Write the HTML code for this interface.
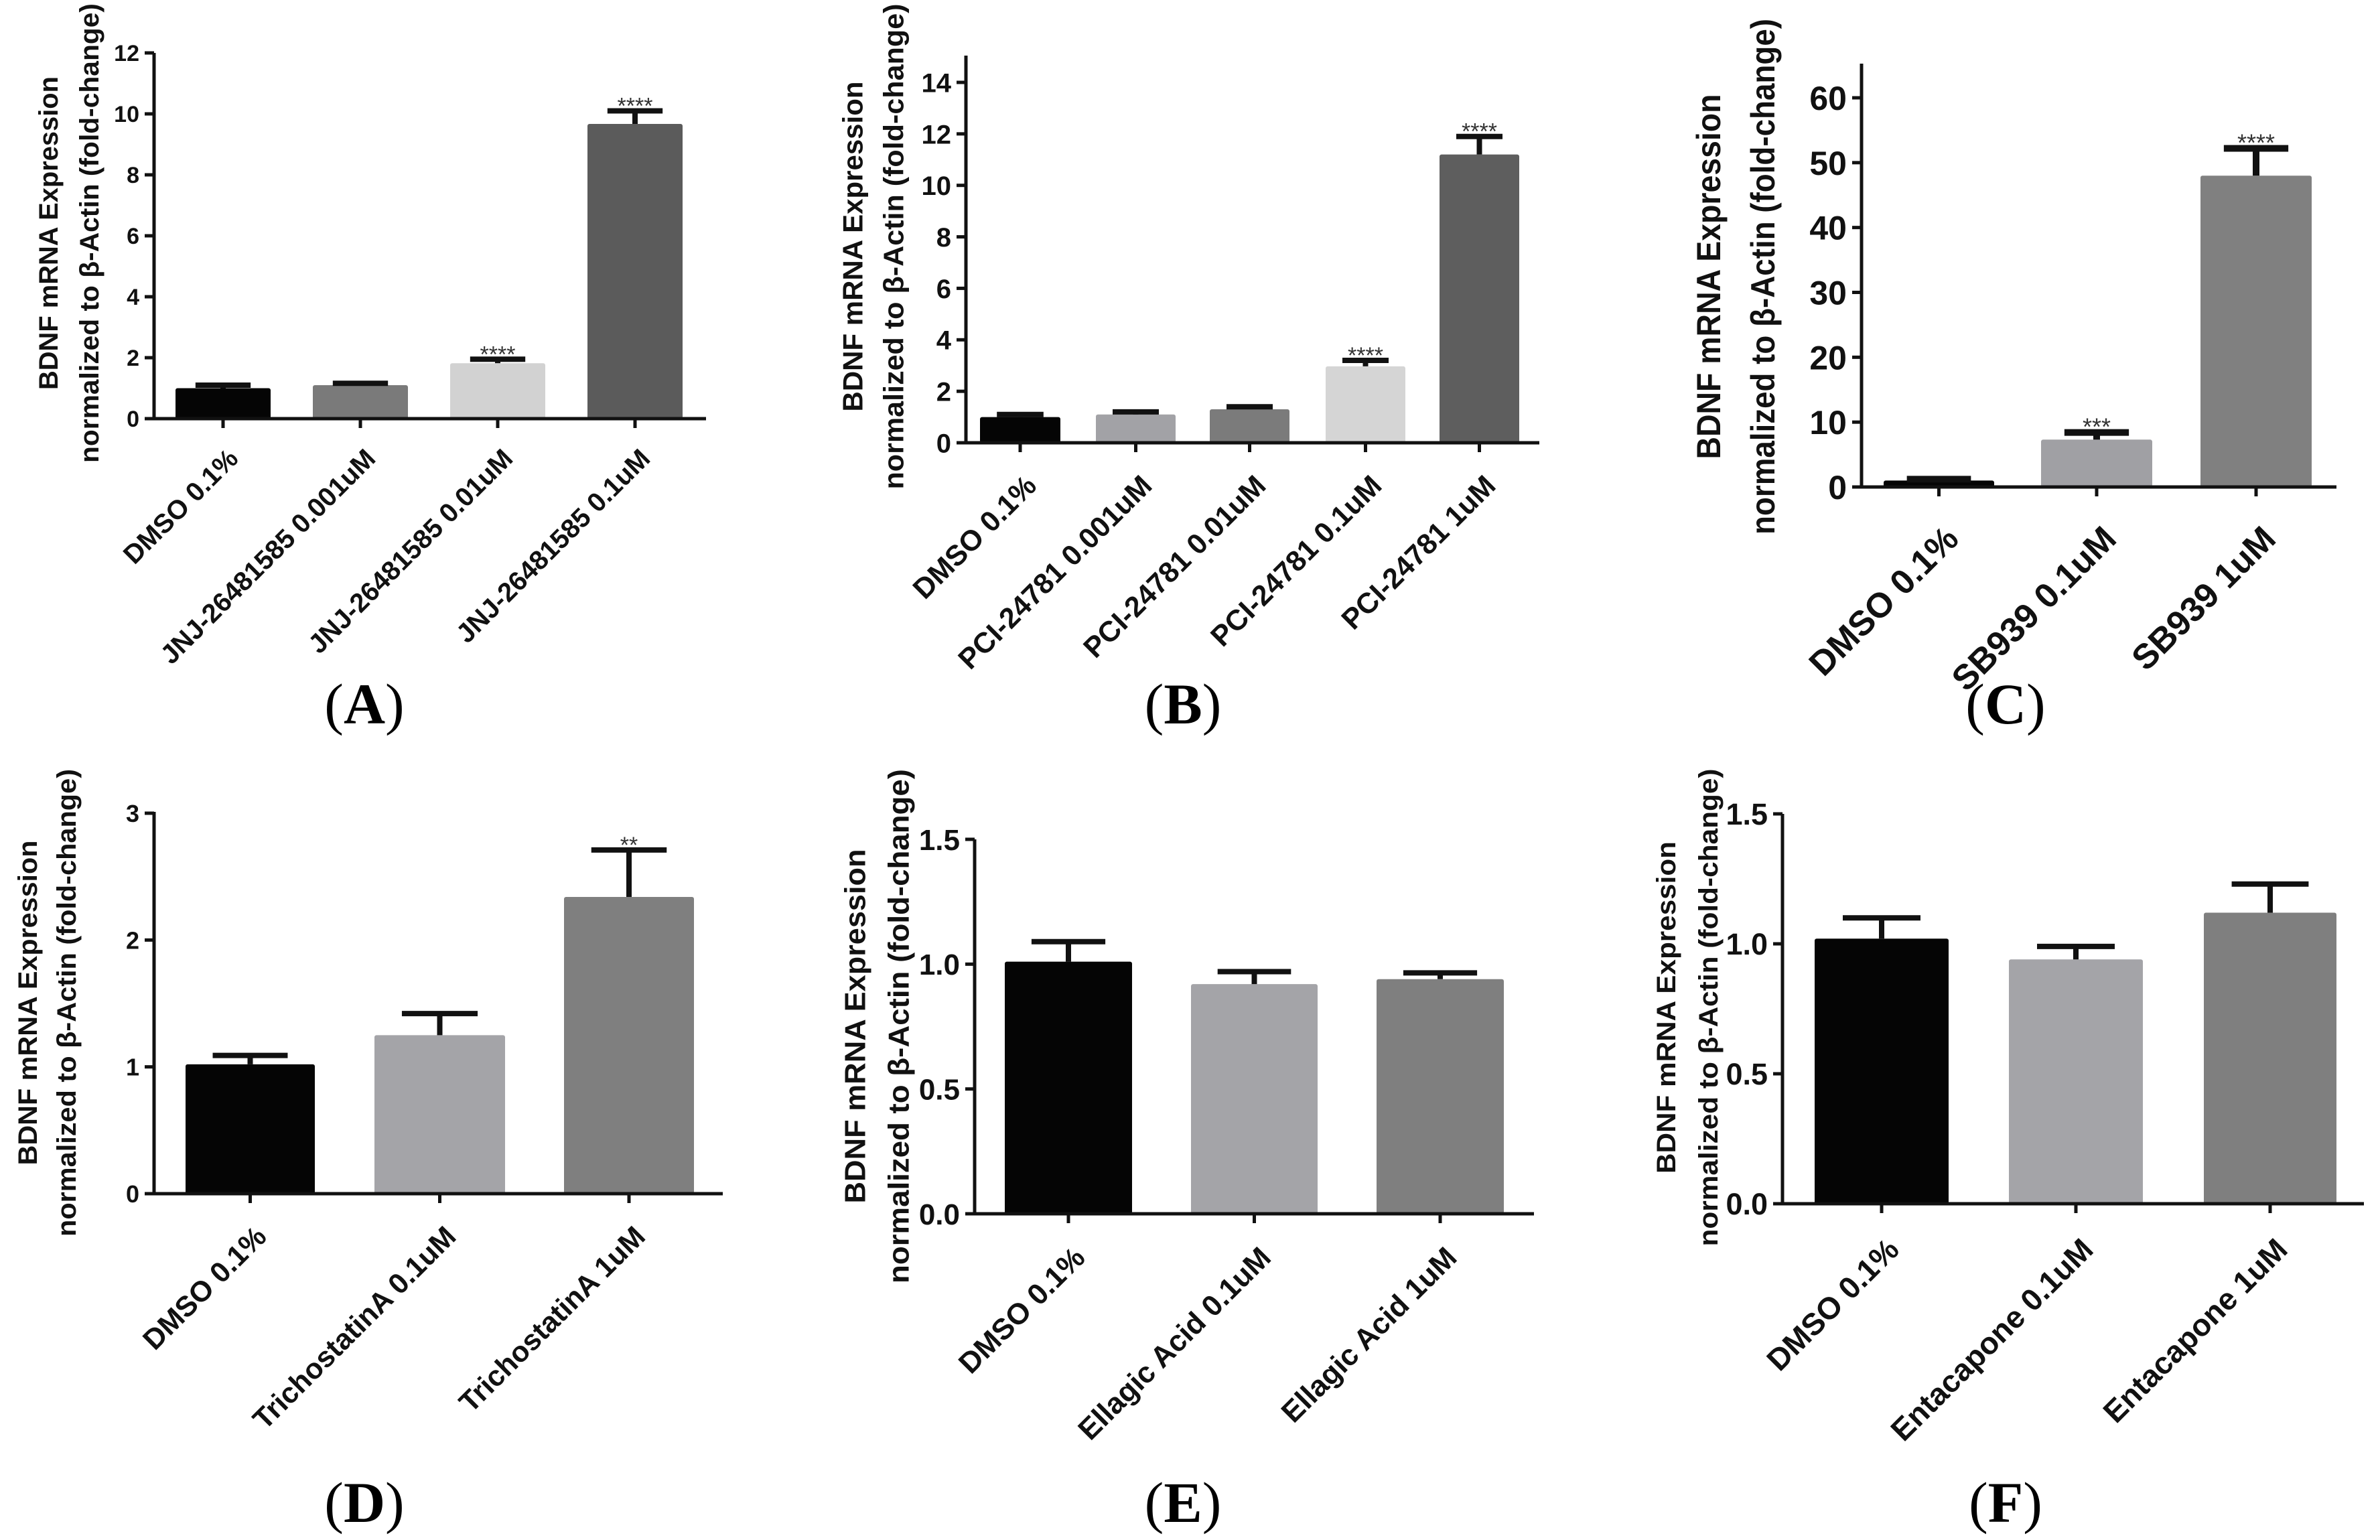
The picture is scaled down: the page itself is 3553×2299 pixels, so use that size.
<!DOCTYPE html>
<html><head><meta charset="utf-8"><title>BDNF mRNA expression panels</title>
<style>
html,body{margin:0;padding:0;background:#fff;}
svg{display:block;}
text{font-family:"Liberation Sans",Arial,sans-serif;}
text.serif{font-family:"Liberation Serif","Times New Roman",serif;}
</style></head>
<body>
<svg id="fig" xmlns="http://www.w3.org/2000/svg" width="3553" height="2299" viewBox="0 0 3553 2299">
<rect x="0" y="0" width="3553" height="2299" fill="#fff"/>
</svg>
<script>
// ---- Data ----
const catsA = ["DMSO 0.1%","JNJ-26481585 0.001uM","JNJ-26481585 0.01uM","JNJ-26481585 0.1uM"];
const valsA = [1.0, 1.1, 1.82, 9.67];
const errA  = [1.1, 1.16, 1.95, 10.1];
const starsA = ["", "", "****", "****"];
const ticksA = [0,2,4,6,8,10,12];
const tickLabelsA = ["0","2","4","6","8","10","12"];

const catsB = ["DMSO 0.1%","PCI-24781 0.001uM","PCI-24781 0.01uM","PCI-24781 0.1uM","PCI-24781 1uM"];
const valsB = [1.0, 1.1, 1.3, 2.97, 11.2];
const errB  = [1.1, 1.2, 1.4, 3.2, 11.9];
const starsB = ["", "", "", "****", "****"];
const ticksB = [0,2,4,6,8,10,12,14];
const tickLabelsB = ["0","2","4","6","8","10","12","14"];

const catsC = ["DMSO 0.1%","SB939 0.1uM","SB939 1uM"];
const valsC = [1.0, 7.3, 48.0];
const errC  = [1.2, 8.4, 52.2];
const starsC = ["", "***", "****"];
const ticksC = [0,10,20,30,40,50,60];
const tickLabelsC = ["0","10","20","30","40","50","60"];

const catsD = ["DMSO 0.1%","TrichostatinA 0.1uM","TrichostatinA 1uM"];
const valsD = [1.02, 1.25, 2.34];
const errD  = [1.09, 1.42, 2.71];
const starsD = ["", "", "**"];
const ticksD = [0,1,2,3];
const tickLabelsD = ["0","1","2","3"];

const catsE = ["DMSO 0.1%","Ellagic Acid 0.1uM","Ellagic Acid 1uM"];
const valsE = [1.01, 0.92, 0.94];
const errE  = [1.09, 0.97, 0.965];
const starsE = ["", "", ""];
const ticksE = [0,0.5,1.0,1.5];
const tickLabelsE = ["0.0","0.5","1.0","1.5"];

const catsF = ["DMSO 0.1%","Entacapone 0.1uM","Entacapone 1uM"];
const valsF = [1.02, 0.94, 1.12];
const errF  = [1.10, 0.99, 1.23];
const starsF = ["", "", ""];
const ticksF = [0,0.5,1.0,1.5];
const tickLabelsF = ["0.0","0.5","1.0","1.5"];

// ---- Layout (geometry only) ----
const panels = [
 {id:"a", letter:"A", cats:catsA, vals:valsA, err:errA, stars:starsA, ticks:ticksA, tl:tickLabelsA,
  ax:230, y0:625, yMax:12, yMaxPx:79, axTop:79, right:1054,
  bars:[[262,404],[467,609],[672,814],[877,1019]],
  colors:["#050505","#7a7a7a","#d2d2d2","#5b5b5b"],
  tickFont:34, catFont:40, starFont:34, eW:8,
  t1x:73, t2x:134, tcy:348, t1len:468, t2len:686, tFont:40,
  lx:544, ly:1080},
 {id:"b", letter:"B", cats:catsB, vals:valsB, err:errB, stars:starsB, ticks:ticksB, tl:tickLabelsB,
  ax:1442, y0:661, yMax:14, yMaxPx:123, axTop:83, right:2298,
  bars:[[1463,1583],[1636,1755],[1806,1925],[1979,2098],[2149,2268]],
  colors:["#050505","#a2a2a6","#7b7b7b","#d5d5d5","#5e5e5e"],
  tickFont:40, catFont:43, starFont:34, eW:8,
  t1x:1273, t2x:1334, tcy:368, t1len:493, t2len:725, tFont:42,
  lx:1766, ly:1080},
 {id:"c", letter:"C", cats:catsC, vals:valsC, err:errC, stars:starsC, ticks:ticksC, tl:tickLabelsC,
  ax:2779, y0:727, yMax:60, yMaxPx:146, axTop:95, right:3488,
  bars:[[2812,2977],[3047,3213],[3285,3451]],
  colors:["#050505","#a0a0a4","#808080"],
  tickFont:50, catFont:52, starFont:36, eW:10,
  t1x:2551, t2x:2632, tcy:413, t1len:545, t2len:770, tFont:50,
  lx:2994, ly:1080},
 {id:"d", letter:"D", cats:catsD, vals:valsD, err:errD, stars:starsD, ticks:ticksD, tl:tickLabelsD,
  ax:230, y0:1782, yMax:3, yMaxPx:1214, axTop:1212, right:1079,
  bars:[[277,470],[559,754],[842,1036]],
  colors:["#050505","#a4a4a8","#7f7f7f"],
  tickFont:36, catFont:43, starFont:34, eW:8,
  t1x:42, t2x:100, tcy:1497, t1len:485, t2len:698, tFont:40,
  lx:544, ly:2272},
 {id:"e", letter:"E", cats:catsE, vals:valsE, err:errE, stars:starsE, ticks:ticksE, tl:tickLabelsE,
  ax:1455, y0:1812, yMax:1.5, yMaxPx:1253, axTop:1253, right:2290,
  bars:[[1500,1690],[1778,1967],[2055,2245]],
  colors:["#050505","#a4a4a8","#7f7f7f"],
  tickFont:44, catFont:44, starFont:34, eW:8,
  t1x:1277, t2x:1342, tcy:1532, t1len:529, t2len:768, tFont:44,
  lx:1766, ly:2272},
 {id:"f", letter:"F", cats:catsF, vals:valsF, err:errF, stars:starsF, ticks:ticksF, tl:tickLabelsF,
  ax:2661, y0:1797, yMax:1.5, yMaxPx:1215, axTop:1215, right:3529,
  bars:[[2709,2909],[2999,3199],[3290,3488]],
  colors:["#050505","#a4a4a8","#7f7f7f"],
  tickFont:45, catFont:46, starFont:34, eW:8,
  t1x:2488, t2x:2551, tcy:1504, t1len:496, t2len:713, tFont:40,
  lx:2994, ly:2272}
];

const NS = "http://www.w3.org/2000/svg";
const svg = document.getElementById("fig");
function el(tag, attrs, parent){
  const e = document.createElementNS(NS, tag);
  for (const k in attrs) e.setAttribute(k, attrs[k]);
  (parent||svg).appendChild(e);
  return e;
}

panels.forEach(p => {
  const g = el("g", {});
  
  
  const yScale = v => p.y0 - (v / p.yMax) * (p.y0 - p.yMaxPx);

  p.vals.forEach((v, i) => {
    const x0 = p.bars[i][0], x1 = p.bars[i][1];
    const yt = yScale(v);
    const r = el("rect", {x:x0, y:yt, width:x1-x0, height:p.y0-yt, fill:p.colors[i], rx:3}, g);
    
    
    const cx = (x0+x1)/2, ye = yScale(p.err[i]);
    const half = (x1-x0)*0.29;
    const eg = el("g", {stroke:"#111", "stroke-width":p.eW, fill:"none"}, g);
    
    
    el("line", {x1:cx, y1:yt, x2:cx, y2:ye}, eg);
    el("line", {x1:cx-half, y1:ye, x2:cx+half, y2:ye}, eg);
    if (p.stars[i]) {
      const s = el("text", {x:cx, y:ye + 4, "text-anchor":"middle", "font-size":p.starFont, fill:"#333"}, g);
      s.textContent = p.stars[i];
      
      
    }
    el("line", {x1:cx, y1:p.y0, x2:cx, y2:p.y0+14, stroke:"#111", "stroke-width":5}, g);
    const lx = cx + 0.62*p.catFont, ly = p.y0 + 1.55*p.catFont;
    const t = el("text", {x:lx, y:ly, "text-anchor":"end", "font-size":p.catFont, "font-weight":"bold", fill:"#111",
      transform:"rotate(-45 " + lx + " " + ly + ")"}, g);
    t.textContent = p.cats[i];
    
    
  });

  const ya = el("line", {x1:p.ax, y1:p.axTop, x2:p.ax, y2:p.y0+2, stroke:"#111", "stroke-width":5}, g);
  
  
  const xa = el("line", {x1:p.ax-14, y1:p.y0, x2:p.right, y2:p.y0, stroke:"#111", "stroke-width":5}, g);
  
  

  p.ticks.forEach((v, i) => {
    const y = yScale(v);
    el("line", {x1:p.ax-14, y1:y, x2:p.ax, y2:y, stroke:"#111", "stroke-width":5}, g);
    const t = el("text", {x:p.ax-22, y:y + p.tickFont*0.36, "text-anchor":"end", "font-size":p.tickFont, "font-weight":"bold", fill:"#111"}, g);
    t.textContent = p.tl[i];
    
    
  });

  const t1 = el("text", {x:p.t1x, y:p.tcy, "text-anchor":"middle", "font-size":p.tFont, "font-weight":"bold", fill:"#111",
    textLength:p.t1len, lengthAdjust:"spacingAndGlyphs", "dominant-baseline":"central",
    transform:"rotate(-90 " + p.t1x + " " + p.tcy + ")"}, g);
  t1.textContent = "BDNF mRNA Expression";
  
  
  const t2 = el("text", {x:p.t2x, y:p.tcy, "text-anchor":"middle", "font-size":p.tFont, "font-weight":"bold", fill:"#111",
    textLength:p.t2len, lengthAdjust:"spacingAndGlyphs", "dominant-baseline":"central",
    transform:"rotate(-90 " + p.t2x + " " + p.tcy + ")"}, g);
  t2.textContent = "normalized to \u03B2-Actin (fold-change)";
  
  

  const L = el("text", {x:p.lx, y:p.ly, "text-anchor":"middle", "font-size":86, fill:"#000", "class":"serif"}, g);
  
  
  const a = document.createElementNS(NS, "tspan"); a.textContent = "("; L.appendChild(a);
  const b = document.createElementNS(NS, "tspan"); b.setAttribute("font-weight","bold"); b.textContent = p.letter; L.appendChild(b);
  const c = document.createElementNS(NS, "tspan"); c.textContent = ")"; L.appendChild(c);
});
</script>
</body></html>
